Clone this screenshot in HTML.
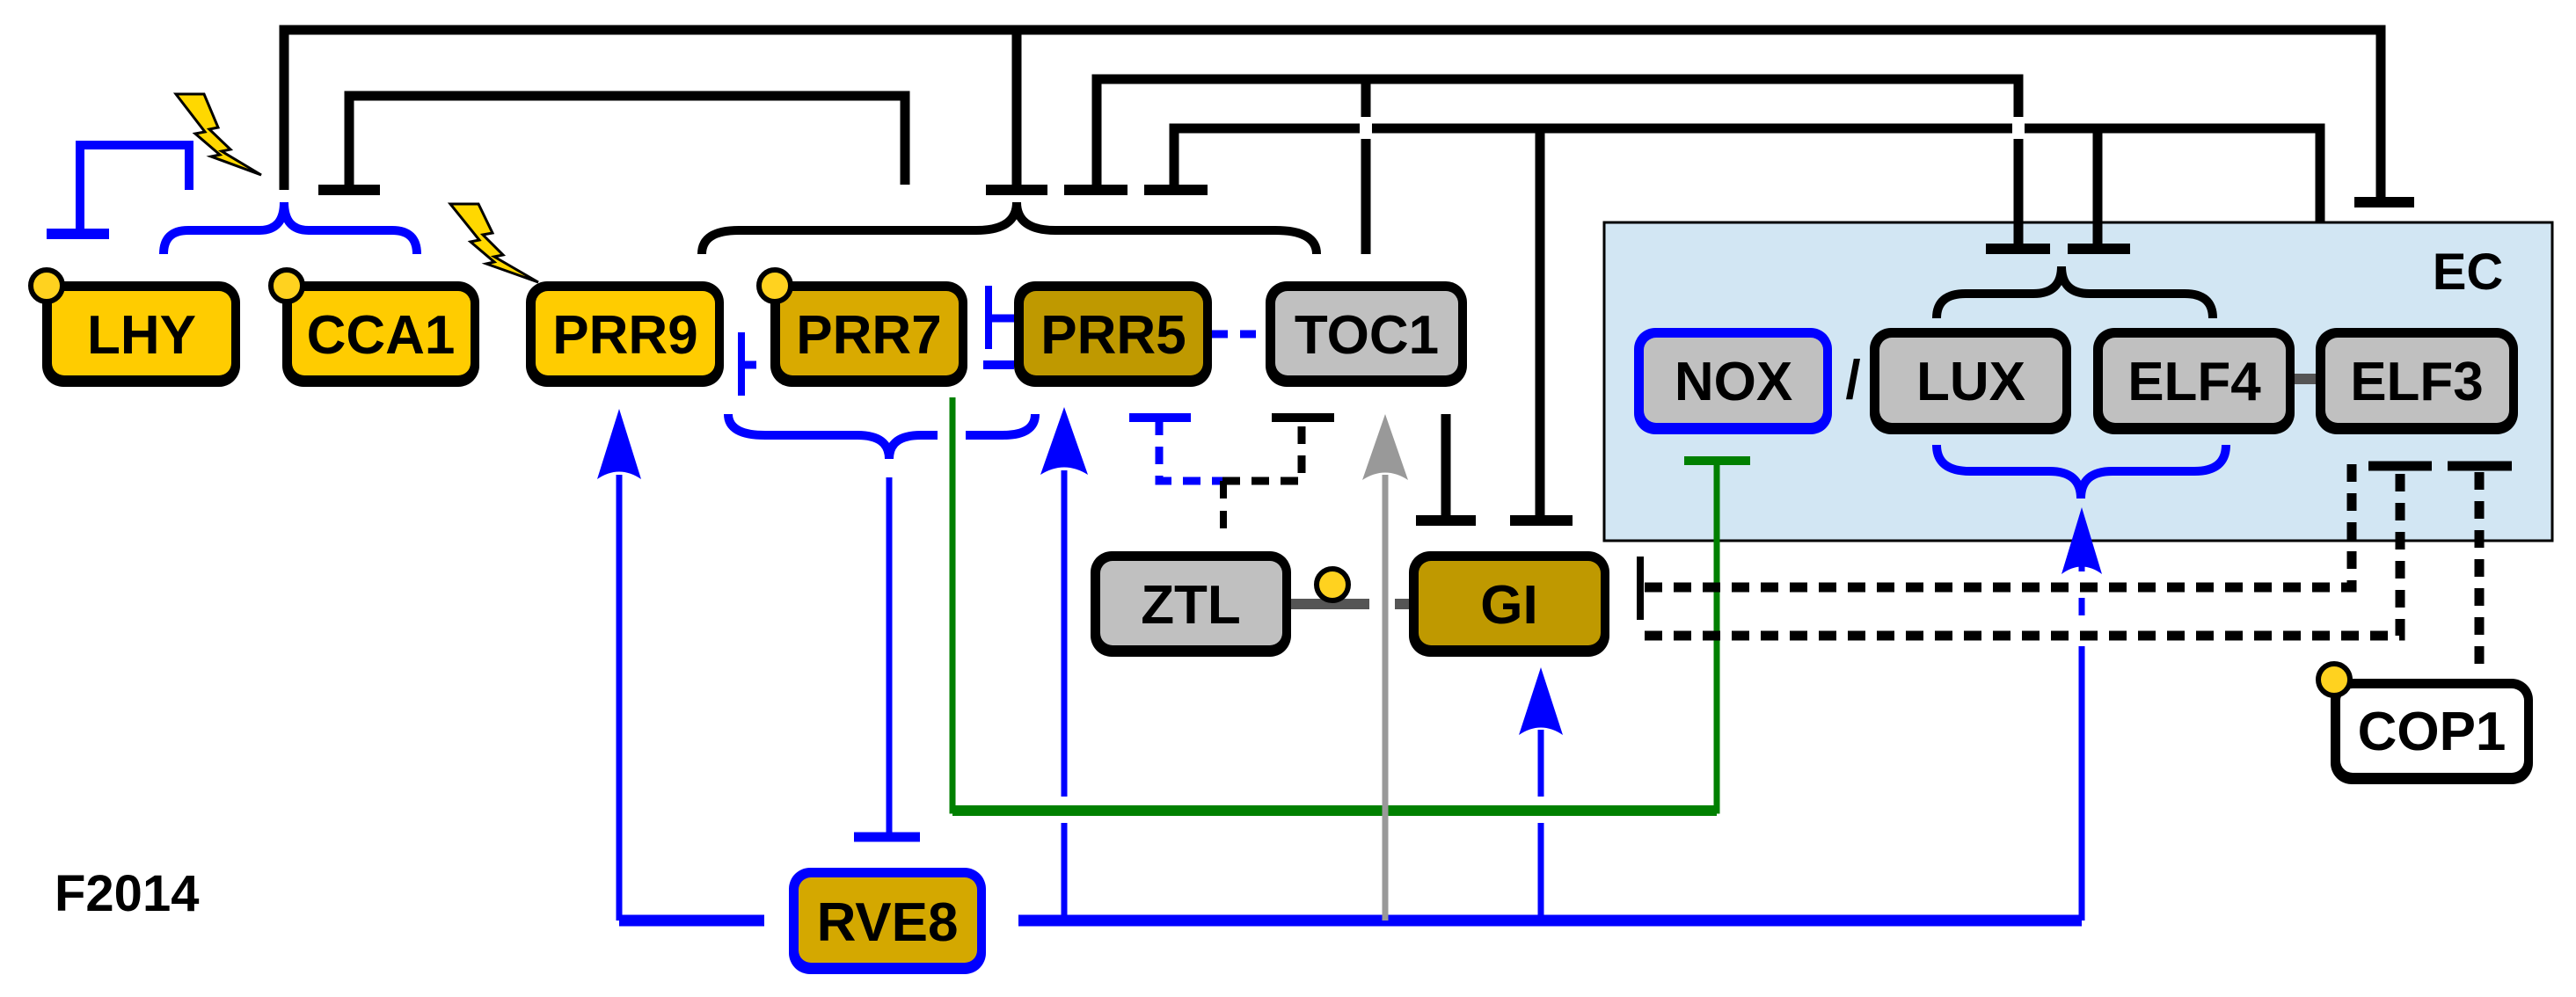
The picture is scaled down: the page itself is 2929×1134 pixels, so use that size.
<!DOCTYPE html>
<html><head><meta charset="utf-8"><style>
html,body{margin:0;padding:0;background:#fff;}
svg{display:block;}
text{font-family:"Liberation Sans",Arial,sans-serif;font-weight:bold;}
</style></head><body>
<svg width="2929" height="1134" viewBox="0 0 2929 1134" xmlns="http://www.w3.org/2000/svg">
<!-- EC box -->
<rect x="1824" y="253" width="1078" height="362" fill="#d2e6f3" stroke="#000" stroke-width="3"/>
<text x="2806" y="329" font-size="58" text-anchor="middle">EC</text>

<g fill="none" stroke="#000" stroke-width="11">
<!-- top line -->
<path d="M323 216 V34 H2707 V230"/>
<path d="M1156 34 V216"/>
<!-- line 2 -->
<path d="M397 216 V109 H1029 V210"/>
<!-- line 3 -->
<path d="M1247 216 V90 H2295 V283"/>
<!-- line 4 -->
<path d="M1335 216 V146 H2638 V253"/>
<path d="M1751 146 V592"/>
<path d="M2385 146 V283"/>
<!-- TOC1 up -->
<path d="M1553 90 V289"/>
<path d="M1644 471 V592"/>
</g>
<!-- hop gaps -->
<g stroke="#fff" stroke-width="14">
<path d="M1553 133 V158"/>
<path d="M2295 133 V158"/>
</g>
<g stroke="#000" stroke-width="10">
<path d="M1553 90 V132 M1553 160 V289"/>
<path d="M2295 90 V132 M2295 160 V283"/>
</g>
<!-- T bars black -->
<g stroke="#000" stroke-width="12">
<path d="M362 216 H432 M1121 216 H1191 M1210 216 H1282 M1301 216 H1373"/>
<path d="M2258 283 H2331 M2351 283 H2422 M2677 230 H2745"/>
<path d="M1610 592 H1678 M1717 592 H1788"/>
</g>

<!-- braces -->
<g fill="none" stroke-width="10" stroke-linecap="butt">
<path stroke="#0000ff" d="M186 289 Q186 262 214 262 L295 262 Q323 262 323 230 Q323 262 351 262 L446 262 Q474 262 474 289"/>
<path stroke="#000" d="M798 289 Q798 262 840 262 L1110 262 Q1156 262 1156 230 Q1156 262 1200 262 L1450 262 Q1497 262 1497 289"/>
<path stroke="#000" d="M2202 362 Q2202 334 2235 334 L2312 334 Q2344 334 2344 303 Q2344 334 2376 334 L2484 334 Q2516 334 2516 362"/>
<path stroke="#0000ff" d="M2202 506 Q2202 536 2240 536 L2330 536 Q2366 536 2366 567 Q2366 536 2402 536 L2495 536 Q2531 536 2531 506"/>
<path stroke="#0000ff" d="M828 471 Q828 495 870 495 L975 495 Q1011 495 1011 522 Q1011 495 1047 495 L1140 495 Q1177 495 1177 471"/>
</g>
<rect x="1066" y="480" width="32" height="25" fill="#fff"/>

<!-- LHY self -->
<path d="M215 216 V165 H91 V266" fill="none" stroke="#0000ff" stroke-width="10"/>
<path d="M53 266 H124" stroke="#0000ff" stroke-width="12"/>

<!-- PRR9 left T -->
<g stroke="#0000ff" fill="none">
<path d="M843 378 V450" stroke-width="8"/>
<path d="M843 415 H860" stroke-width="9"/>
<path d="M1124 325 V397" stroke-width="8"/>
<path d="M1124 362 H1153" stroke-width="9"/>
<path d="M1118 415 H1153" stroke-width="10"/>
<path d="M1378 380 H1439" stroke-width="9" stroke-dasharray="18 14"/>
</g>

<!-- blue/black dashed to ZTL -->
<path d="M1284 475 H1354" stroke="#0000ff" stroke-width="10"/>
<path d="M1318 475 V547 H1390" fill="none" stroke="#0000ff" stroke-width="9" stroke-dasharray="20 13"/>
<path d="M1390 547 H1480 V475" fill="none" stroke="#000" stroke-width="9" stroke-dasharray="20 13"/>
<path d="M1446 475 H1517" stroke="#000" stroke-width="10"/>
<path d="M1391 547 V612" stroke="#000" stroke-width="8" stroke-dasharray="20 14"/>

<!-- green -->
<path d="M1083 452 V922 H1952 V524" fill="none" stroke="#008000" stroke-width="7"/>
<path d="M1083 922 H1952" stroke="#008000" stroke-width="12"/>
<path d="M1915 524 H1990" stroke="#008000" stroke-width="10"/>

<!-- blue verticals -->
<g stroke="#0000ff" stroke-width="7" fill="none">
<path d="M704 1047 V540"/>
<path d="M1011 543 V952"/>
<path d="M1210 1047 V936 M1210 906 V535"/>
<path d="M1752 1047 V936 M1752 906 V830"/>
<path d="M2367 1047 V735 M2367 700 V680 M2367 650 V640"/>
</g>
<path d="M971 952 H1046" stroke="#0000ff" stroke-width="11"/>
<path d="M704 1047 H869 M1158 1047 H2367" stroke="#0000ff" stroke-width="13" fill="none"/>
<path d="M1575 1047 V540" stroke="#999" stroke-width="7"/>
<!-- arrowheads -->
<path d="M704 465 L679 545 Q704 528 729 545 Z" fill="#0000ff"/>
<path d="M1210 463 L1183 540 Q1210 523 1237 540 Z" fill="#0000ff"/>
<path d="M1575 471 L1549 546 Q1575 529 1601 546 Z" fill="#999"/>
<path d="M1752 759 L1727 836 Q1752 819 1777 836 Z" fill="#0000ff"/>
<path d="M2367 577 L2344 653 Q2367 636 2390 653 Z" fill="#0000ff"/>

<!-- GI dashed inhibitions -->
<path d="M1865 633 V705" stroke="#000" stroke-width="8"/>
<g fill="none" stroke="#000" stroke-width="11" stroke-dasharray="20 13">
<path d="M1870 668 H2674 V523"/>
<path d="M1870 723 H2729 V535"/>
<path d="M2819 755 V535"/>
</g>
<path d="M2693 530 H2765 M2783 530 H2856" stroke="#000" stroke-width="11"/>

<!-- connectors -->
<path d="M2609 431 H2633" stroke="#555" stroke-width="12"/>
<path d="M1468 687 H1557 M1586 687 H1602" stroke="#555" stroke-width="12"/>
<circle cx="1515" cy="665" r="18" fill="#ffd21f" stroke="#000" stroke-width="6"/>

<!-- lightning -->
<g fill="#ffd800" stroke="#000" stroke-width="3">
<path d="M200 107 L232 107 L248 145 L238 147 L262 170 L252 172 L297 199 L240 178 L250 176 L222 152 L233 150 Z"/>
<path d="M512 232 L544 232 L560 265 L549 267 L572 290 L562 292 L612 321 L553 300 L562 298 L535 275 L545 273 Z"/>
</g>

<!-- nodes -->
<g>
<rect x="48" y="320" width="225" height="120" rx="24" fill="#000"/><rect x="59" y="331" width="204" height="96" rx="14" fill="#ffcc00"/>
<rect x="321" y="320" width="224" height="120" rx="24" fill="#000"/><rect x="332" y="331" width="203" height="96" rx="14" fill="#ffcc00"/>
<rect x="598" y="320" width="225" height="120" rx="24" fill="#000"/><rect x="609" y="331" width="204" height="96" rx="14" fill="#ffcc00"/>
<rect x="876" y="320" width="224" height="120" rx="24" fill="#000"/><rect x="887" y="331" width="203" height="96" rx="14" fill="#d9aa00"/>
<rect x="1153" y="320" width="225" height="120" rx="24" fill="#000"/><rect x="1164" y="331" width="204" height="96" rx="14" fill="#bf9900"/>
<rect x="1439" y="320" width="229" height="120" rx="24" fill="#000"/><rect x="1450" y="331" width="208" height="96" rx="14" fill="#c0c0c0"/>
<rect x="1858" y="373" width="225" height="121" rx="24" fill="#0000ff"/><rect x="1869" y="384" width="204" height="97" rx="14" fill="#c0c0c0"/>
<rect x="2126" y="373" width="229" height="121" rx="24" fill="#000"/><rect x="2137" y="384" width="208" height="97" rx="14" fill="#c0c0c0"/>
<rect x="2380" y="373" width="229" height="121" rx="24" fill="#000"/><rect x="2391" y="384" width="208" height="97" rx="14" fill="#c0c0c0"/>
<rect x="2633" y="373" width="230" height="121" rx="24" fill="#000"/><rect x="2644" y="384" width="209" height="97" rx="14" fill="#c0c0c0"/>
<rect x="1240" y="627" width="228" height="120" rx="24" fill="#000"/><rect x="1251" y="638" width="207" height="96" rx="14" fill="#c0c0c0"/>
<rect x="1602" y="627" width="228" height="120" rx="24" fill="#000"/><rect x="1613" y="638" width="207" height="96" rx="14" fill="#bf9900"/>
<rect x="897" y="987" width="224" height="121" rx="24" fill="#0000ff"/><rect x="908" y="998" width="203" height="97" rx="14" fill="#d4a800"/>
<rect x="2650" y="772" width="230" height="120" rx="24" fill="#000"/><rect x="2661" y="783" width="209" height="96" rx="14" fill="#fff"/>
</g>
<g fill="#ffd21f" stroke="#000" stroke-width="6">
<circle cx="53" cy="325" r="18"/><circle cx="326" cy="325" r="18"/><circle cx="881" cy="325" r="18"/><circle cx="2654" cy="773" r="18"/>
</g>
<g font-size="62" text-anchor="middle">
<text x="161" y="402">LHY</text>
<text x="433" y="402">CCA1</text>
<text x="711" y="402">PRR9</text>
<text x="988" y="402">PRR7</text>
<text x="1266" y="402">PRR5</text>
<text x="1554" y="402">TOC1</text>
<text x="1971" y="455">NOX</text>
<text x="2241" y="455">LUX</text>
<text x="2495" y="455">ELF4</text>
<text x="2748" y="455">ELF3</text>
<text x="1354" y="709">ZTL</text>
<text x="1716" y="709">GI</text>
<text x="1009" y="1070">RVE8</text>
<text x="2765" y="853">COP1</text>
<text x="2107" y="453" font-weight="normal">/</text>
</g>
<text x="62" y="1036" font-size="58">F2014</text>
</svg>
</body></html>
